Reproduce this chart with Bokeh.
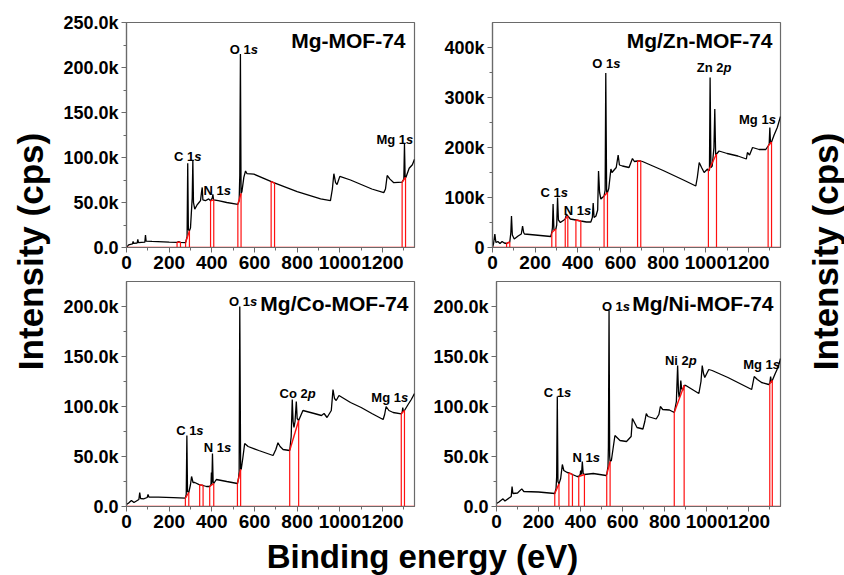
import numpy as np
from math import pi
from bokeh.plotting import figure
from bokeh.layouts import row, column
from bokeh.models import Range1d, FixedTicker, Label
from bokeh.embed import file_html
from bokeh.resources import INLINE

# ---------------- survey spectra (binding energy in eV, intensity in kcps) ----------------
mg_ev = [0, 5, 10, 28, 31, 34, 50, 53, 56, 86,
         89, 92, 120, 200, 237, 245, 253, 277, 284, 287,
         290, 295, 300, 308, 311, 314, 320, 330, 340, 347,
         352, 355, 358, 370, 385, 394, 402, 405, 408, 430,
         470, 522, 528, 531, 534, 537, 541, 550, 558, 565,
         597, 690, 800, 910, 956, 965, 972, 980, 987, 1000,
         1050, 1100, 1150, 1206, 1214, 1222, 1235, 1253, 1292, 1300,
         1303, 1306, 1310, 1325, 1340, 1350]
mg_kcps = [0.3, 1.5, 3.0, 4.0, 6.7, 4.5, 5.0, 9.0, 5.5, 6.0,
           13.7, 7.0, 6.7, 6.0, 5.8, 6.5, 5.8, 5.5, 12.0, 93.7,
           20.0, 18.5, 22.0, 55.0, 97.0, 50.0, 42.6, 47.0, 50.0, 52.0,
           62.0, 66.7, 53.0, 52.0, 54.0, 52.0, 55.0, 59.0, 53.0, 52.0,
           50.0, 48.0, 52.0, 80.0, 215.0, 60.0, 62.0, 78.0, 85.0, 82.0,
           81.5, 72.0, 62.0, 54.0, 52.0, 65.0, 82.0, 72.0, 70.0, 79.0,
           75.0, 70.0, 65.0, 61.0, 65.0, 80.0, 76.0, 72.0, 72.6, 76.0,
           115.0, 78.0, 78.0, 88.0, 92.0, 98.0]

zn_ev = [0, 5, 11, 16, 25, 35, 45, 55, 66, 75,
         81, 86, 89, 93, 102, 120, 135, 141, 146, 150,
         200, 273, 278, 281, 284, 288, 297, 301, 305, 309,
         318, 335, 341, 347, 353, 365, 391, 414, 440, 461,
         468, 472, 476, 485, 493, 497, 502, 508, 523, 528,
         531, 535, 539, 545, 555, 560, 580, 589, 595, 609,
         640, 656, 665, 680, 695, 703, 800, 900, 953, 960,
         969, 980, 992, 1008, 1012, 1017, 1020, 1024, 1030, 1038,
         1042, 1046, 1050, 1062, 1100, 1150, 1190, 1195, 1205, 1219,
         1250, 1281, 1292, 1297, 1300, 1303, 1308, 1320, 1335, 1350]
zn_kcps = [0.0, 8.0, 26.7, 10.0, 12.0, 8.0, 12.0, 9.0, 8.0, 10.0,
           11.0, 30.0, 63.0, 25.0, 17.0, 23.0, 27.0, 43.0, 30.0, 27.0,
           25.0, 22.0, 30.0, 40.0, 87.0, 35.0, 37.0, 45.0, 100.0, 55.0,
           50.0, 55.0, 57.0, 67.0, 63.0, 57.0, 55.0, 53.0, 51.0, 51.0,
           60.0, 89.0, 60.0, 63.0, 75.0, 153.0, 110.0, 97.0, 103.0, 115.0,
           349.0, 110.0, 110.0, 118.0, 157.0, 150.0, 160.0, 185.0, 165.0, 163.0,
           160.0, 178.0, 172.0, 173.0, 173.0, 172.0, 154.0, 134.0, 123.0, 140.0,
           170.0, 160.0, 150.0, 157.0, 153.0, 155.0, 340.0, 160.0, 163.0, 200.0,
           277.0, 185.0, 187.0, 193.0, 188.0, 183.0, 177.0, 190.0, 185.0, 200.0,
           196.0, 196.0, 203.0, 207.0, 240.0, 210.0, 211.0, 225.0, 240.0, 262.0]

co_ev = [0, 10, 23, 35, 58, 62, 66, 80, 97, 101,
         105, 150, 220, 276, 280, 283, 286, 292, 300, 305,
         312, 320, 343, 359, 375, 390, 396, 398, 400, 403,
         406, 409, 421, 470, 520, 525, 528, 531, 535, 538,
         545, 554, 570, 620, 687, 700, 710, 720, 734, 765,
         772, 777, 781, 785, 790, 796, 800, 807, 827, 880,
         914, 926, 940, 960, 968, 975, 983, 996, 1050, 1100,
         1150, 1203, 1210, 1217, 1230, 1250, 1288, 1292, 1295, 1298,
         1303, 1320, 1335, 1350]
co_kcps = [2.0, 3.5, 6.0, 4.0, 7.0, 14.0, 8.0, 7.7, 9.0, 12.0,
           9.5, 9.3, 8.8, 8.3, 12.0, 71.0, 15.0, 14.0, 22.0, 30.0,
           24.0, 24.0, 21.7, 21.0, 20.0, 20.0, 22.0, 34.0, 22.0, 53.0,
           25.0, 23.0, 27.0, 25.0, 23.0, 28.0, 35.0, 200.0, 37.0, 37.7,
           48.0, 63.0, 60.0, 56.0, 51.0, 57.0, 63.7, 60.0, 57.0, 56.0,
           70.0, 107.0, 85.0, 79.0, 85.0, 105.0, 88.0, 86.0, 96.0, 93.0,
           91.0, 93.0, 89.0, 96.0, 117.0, 108.0, 106.0, 111.0, 104.0, 99.0,
           93.0, 87.0, 92.0, 100.0, 96.0, 94.0, 92.7, 94.0, 99.0, 95.0,
           96.0, 102.0, 107.0, 113.0]

ni_ev = [0, 10, 31, 40, 70, 74, 78, 100, 120, 130,
         200, 277, 283, 286, 289, 292, 297, 305, 313, 320,
         336, 344, 352, 361, 383, 391, 398, 400, 404, 408,
         412, 418, 460, 521, 524, 530, 532, 535, 538, 540,
         546, 563, 587, 618, 640, 646, 668, 696, 705, 712,
         720, 759, 772, 779, 790, 822, 845, 855, 861, 865,
         868, 873, 876, 880, 885, 892, 900, 962, 972, 978,
         984, 990, 1009, 1025, 1100, 1166, 1213, 1225, 1240, 1260,
         1294, 1299, 1303, 1307, 1311, 1325, 1340, 1350]
ni_kcps = [3.0, 4.3, 7.7, 5.5, 10.0, 20.0, 13.0, 13.5, 17.6, 15.0,
           14.5, 13.0, 18.0, 30.0, 110.0, 25.0, 22.6, 28.0, 42.0, 36.0,
           34.0, 33.6, 33.0, 32.0, 30.0, 30.0, 32.0, 36.0, 32.0, 45.0,
           33.0, 32.0, 33.0, 31.0, 32.0, 40.0, 60.0, 196.0, 50.0, 45.0,
           46.0, 71.0, 66.0, 65.0, 70.0, 88.0, 79.0, 77.5, 85.0, 93.0,
           90.0, 87.5, 92.0, 100.0, 97.0, 96.5, 94.0, 105.0, 141.0, 115.0,
           109.0, 115.0, 126.0, 118.0, 116.0, 121.0, 121.0, 113.0, 125.0, 141.0,
           133.0, 129.0, 137.0, 136.0, 129.0, 122.0, 117.0, 130.0, 127.0, 124.0,
           122.0, 123.0, 130.0, 124.0, 126.0, 133.0, 140.0, 148.0]

# ---------------- peak-area limits (eV pairs) ----------------
mg_regions = [(237, 253), (277, 295), (394, 409), (522, 537), (678, 694), (1292, 1308)]
zn_regions = [(66, 81), (278, 297), (341, 353), (391, 414), (523, 539), (680, 695),
              (1012, 1050), (1292, 1308)]
co_regions = [(276, 292), (343, 359), (390, 409), (520, 535), (765, 807), (1288, 1303)]
ni_regions = [(277, 297), (344, 361), (391, 418), (524, 540), (845, 892), (1299, 1311)]

# ---------------- peak assignments: name, orbital letter, label anchor (eV, kcps) ----------------
mg_peaks = [("C 1", "s", 287, 100.7), ("N 1", "s", 425, 63.7),
            ("O 1", "s", 550, 219.6), ("Mg 1", "s", 1258, 120.0)]
zn_peaks = [("C 1", "s", 289, 111.0), ("N 1", "s", 398, 75.0), ("O 1", "s", 534, 368.0),
            ("Zn 2", "p", 1039, 360.0), ("Mg 1", "s", 1242, 257.0)]
co_peaks = [("C 1", "s", 297, 76.0), ("N 1", "s", 427, 59.0), ("O 1", "s", 547, 205.0),
            ("Co 2", "p", 802, 113.0), ("Mg 1", "s", 1234, 108.7)]
ni_peaks = [("C 1", "s", 290, 114.0), ("N 1", "s", 427, 49.0), ("O 1", "s", 568, 200.0),
            ("Ni 2", "p", 876, 146.0), ("Mg 1", "s", 1260, 142.0)]

# ---------------- axes ----------------
x_ticks = [0, 200, 400, 600, 800, 1000, 1200]
x_minor = [100, 300, 500, 700, 900, 1100, 1300]
x_max = 1350

k_ticks_50 = [0, 50000, 100000, 150000, 200000, 250000]
k_labels_50 = ["0.0", "50.0k", "100.0k", "150.0k", "200.0k", "250.0k"]
k_ticks_100 = [0, 100000, 200000, 300000, 400000]
k_labels_100 = ["0", "100k", "200k", "300k", "400k"]

titles = ["Mg-MOF-74", "Mg/Zn-MOF-74", "Mg/Co-MOF-74", "Mg/Ni-MOF-74"]
x_title = "Binding energy (eV)"
y_title = "Intensity (cps)"

FONT = "Liberation Sans"
FRAME = "#6a6a6a"
RED = "#ff1010"

# character advance widths (em) of the bold sans face, for centring two-part labels
ADV = {"C": .722, "O": .778, "M": .833, "N": .722, "Z": .611, "g": .611, "i": .278,
       "n": .611, "o": .611, " ": .278, "1": .556, "2": .556, "s": .556, "p": .611}


def text_width(s, size):
    return sum(ADV.get(ch, .6) for ch in s) * size


def panel(width, height, borders, ev, kcps, y_max, yt, yl, title, title_off,
          peaks, regions):
    left, right, top, bottom = borders
    p = figure(width=width, height=height, x_range=Range1d(0, x_max),
               y_range=Range1d(0, y_max), output_backend="svg",
               toolbar_location=None, min_border_left=left,
               min_border_right=right, min_border_top=top,
               min_border_bottom=bottom)
    p.background_fill_color = "white"
    p.border_fill_color = "white"
    p.outline_line_color = FRAME
    p.outline_line_width = 1.2
    p.xgrid.visible = False
    p.ygrid.visible = False

    p.xaxis.ticker = FixedTicker(ticks=x_ticks, minor_ticks=x_minor)
    minor_y = [t + yt[1] / 2 for t in yt]
    p.yaxis.ticker = FixedTicker(ticks=yt, minor_ticks=[m for m in minor_y if m < y_max])
    p.yaxis.major_label_overrides = {t: l for t, l in zip(yt, yl)}
    for ax, fs in ((p.xaxis[0], "19px"), (p.yaxis[0], "18px")):
        ax.axis_line_color = FRAME
        ax.axis_line_width = 1.2
        ax.major_tick_line_color = FRAME
        ax.minor_tick_line_color = FRAME
        ax.major_tick_in = 0
        ax.major_tick_out = 5
        ax.minor_tick_in = 0
        ax.minor_tick_out = 3
        ax.major_label_text_font = FONT
        ax.major_label_text_font_style = "bold"
        ax.major_label_text_color = "black"
        ax.major_label_text_font_size = fs
        ax.major_label_standoff = 3

    energy = np.array(ev, dtype=float)
    counts = np.array(kcps, dtype=float) * 1000.0
    p.line(energy, counts, line_color="black", line_width=1.3)

    # zero line and peak-area background markers
    p.line([0, x_max], [0, 0], line_color=RED, line_width=1.3)
    e1 = np.array([r[0] for r in regions], dtype=float)
    e2 = np.array([r[1] for r in regions], dtype=float)
    h1 = np.interp(e1, energy, counts)
    h2 = np.interp(e2, energy, counts)
    p.segment(x0=np.concatenate([e1, e2]), y0=np.zeros(2 * len(e1)),
              x1=np.concatenate([e1, e2]), y1=np.concatenate([h1, h2]),
              line_color=RED, line_width=1.2)
    p.segment(x0=e1, y0=h1, x1=e2, y1=h2, line_color=RED, line_width=1.4)

    # sample name
    p.add_layout(Label(x=x_max, y=y_max, x_offset=title_off[0], y_offset=title_off[1],
                       text=title, text_align="right", text_baseline="top",
                       text_font=FONT, text_font_style="bold",
                       text_font_size="21px", text_color="black"))

    # peak assignments: element and level upright, orbital letter italic
    size = 13
    for name, orb, e, k in peaks:
        shift = (text_width(name, size) - text_width(orb, size)) / 2
        p.add_layout(Label(x=e, y=k * 1000.0, x_offset=shift, text=name,
                           text_align="right", text_baseline="middle",
                           text_font=FONT, text_font_style="bold",
                           text_font_size=f"{size}px", text_color="black"))
        p.add_layout(Label(x=e, y=k * 1000.0, x_offset=shift, text=orb,
                           text_align="left", text_baseline="middle",
                           text_font=FONT, text_font_style="bold italic",
                           text_font_size=f"{size}px", text_color="black"))
    return p


def caption(width, height, x, y, text, size, angle=0.0):
    f = figure(width=width, height=height, x_range=Range1d(0, width),
               y_range=Range1d(0, height), output_backend="svg",
               toolbar_location=None, min_border=0)
    f.axis.visible = False
    f.grid.visible = False
    f.outline_line_color = None
    f.background_fill_color = "white"
    f.border_fill_color = "white"
    f.add_layout(Label(x=x, y=y, text=text, angle=angle, text_align="center",
                       text_baseline="middle", text_font=FONT,
                       text_font_style="bold", text_font_size=size,
                       text_color="black"))
    return f


tl = panel(375, 277, (71, 16, 22, 30), mg_ev, mg_kcps, 250000, k_ticks_50, k_labels_50,
           titles[0], (-9, -6), mg_peaks, mg_regions)
tr = panel(360, 277, (62, 10, 22, 30), zn_ev, zn_kcps, 450000, k_ticks_100, k_labels_100,
           titles[1], (-8, -6), zn_peaks, zn_regions)
bl = panel(375, 259, (71, 16, 4, 30), co_ev, co_kcps, 225000, k_ticks_50[:5], k_labels_50[:5],
           titles[2], (-6, -10), co_peaks, co_regions)
br = panel(360, 259, (62, 10, 4, 30), ni_ev, ni_kcps, 225000, k_ticks_50[:5], k_labels_50[:5],
           titles[3], (-7, -10), ni_peaks, ni_regions)

left = caption(55, 575, 30, 324, y_title, "35px", angle=pi / 2)
right = caption(54, 575, 35, 324, y_title, "35px", angle=pi / 2)
bottom = caption(735, 39, 367, 19, x_title, "33px")

layout = row(left, column(row(tl, tr), row(bl, br), bottom), right)

open("out.html", "w").write(file_html(layout, INLINE))
